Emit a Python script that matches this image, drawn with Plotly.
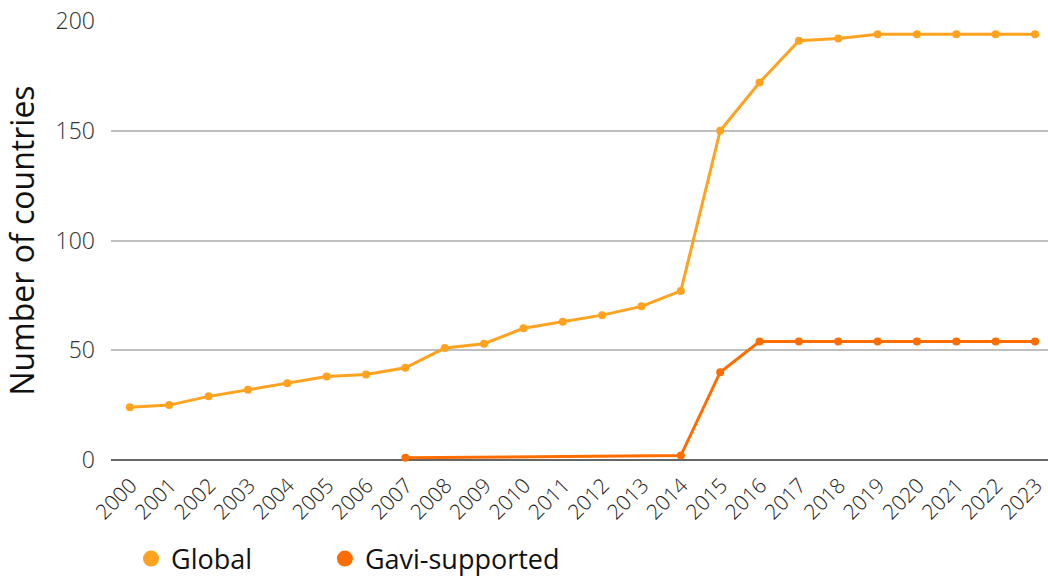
import plotly.graph_objects as go

years = list(range(2000, 2024))
global_vals = [24, 25, 29, 32, 35, 38, 39, 42, 51, 53, 60, 63, 66, 70, 77,
               150, 172, 191, 192, 194, 194, 194, 194, 194]
gavi_years = [2007, 2014, 2015, 2016, 2017, 2018, 2019, 2020, 2021, 2022, 2023]
gavi_vals = [1, 2, 40, 54, 54, 54, 54, 54, 54, 54, 54]
y_ticks = [0, 50, 100, 150, 200]

c_global = "#FFA220"
c_gavi = "#FF6D00"
light = "Open Sans Light, Open Sans"

fig = go.Figure()
fig.add_trace(go.Scatter(x=years, y=global_vals, mode="lines+markers", name="Global",
                         line=dict(color=c_global, width=3), marker=dict(size=8, color=c_global),
                         showlegend=False, cliponaxis=False))
fig.add_trace(go.Scatter(x=gavi_years, y=gavi_vals, mode="lines+markers", name="Gavi-supported",
                         line=dict(color=c_gavi, width=3), marker=dict(size=8, color=c_gavi),
                         showlegend=False, cliponaxis=False))
# legend entries (marker only)
fig.add_trace(go.Scatter(x=[None], y=[None], mode="markers", name="Global",
                         marker=dict(size=22, color=c_global), legend="legend"))
fig.add_trace(go.Scatter(x=[None], y=[None], mode="markers", name="Gavi-supported",
                         marker=dict(size=22, color=c_gavi), legend="legend2"))

leg_common = dict(orientation="h", xref="container", yref="container",
                  y=17 / 576, xanchor="left", yanchor="middle",
                  font=dict(size=27, color="#111"), itemwidth=30,
                  bgcolor="rgba(0,0,0,0)")

fig.update_layout(
    width=1048, height=576,
    margin=dict(l=111, r=0, t=21, b=116, autoexpand=False),
    paper_bgcolor="white", plot_bgcolor="white",
    font=dict(family="Open Sans", color="#222"),
    legend=dict(x=0.125, **leg_common),
    legend2=dict(x=0.310, **leg_common),
    xaxis=dict(range=[1999.52, 2023.33], tickmode="array", tickvals=years,
               ticktext=[str(y) for y in years], tickangle=-45, automargin=False,
               tickfont=dict(family=light, size=21, color="#222"),
               ticklabelshift=1, ticklabelstandoff=8, ticklabeloverflow="allow",
               showgrid=False, zeroline=False, showline=False, ticks=""),
    yaxis=dict(range=[0, 200], tickvals=y_ticks, automargin=False,
               tickfont=dict(family=light, size=23, color="#333"),
               showgrid=True, gridcolor="#BFBFBF", gridwidth=1.5,
               zeroline=True, zerolinecolor="#666", zerolinewidth=2,
               title=dict(text="Number of countries", font=dict(size=32, color="#111"), standoff=22),
               ticklabelstandoff=15),
)

fig.write_html("out.html", post_script="document.body.style.margin='0';",
               config={"displayModeBar": False})
